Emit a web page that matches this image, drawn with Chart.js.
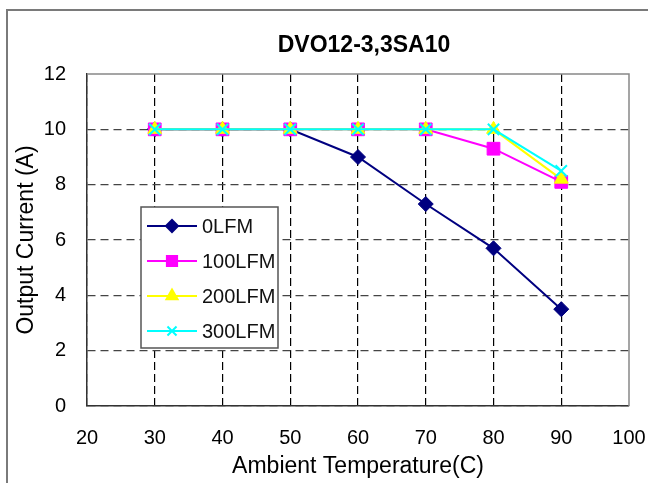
<!DOCTYPE html>
<html>
<head>
<meta charset="utf-8">
<script src="https://cdn.jsdelivr.net/npm/chart.js@4/dist/chart.umd.min.js"></script>
<style>
  html, body { margin: 0; padding: 0; background: #fff; }
  #wrap { width: 648px; height: 483px; }
</style>
</head>
<body>
<div id="wrap"><canvas id="chart" width="648" height="483"></canvas></div>
<script>
// values
const temps = [30, 40, 50, 60, 70, 80, 90];
const lfm0   = [10, 10, 10, 9.0, 7.3, 5.7, 3.5];
const lfm100 = [10, 10, 10, 10, 10, 9.3, 8.1];
const lfm200 = [10, 10, 10, 10, 10, 10, 8.2];
const lfm300 = [10, 10, 10, 10, 10, 10, 8.5];
const xTicks = [20, 30, 40, 50, 60, 70, 80, 90, 100];
const yTicks = [0, 2, 4, 6, 8, 10, 12];

const FONT = "'Liberation Sans', Arial, sans-serif";

function pts(arr) {
  return temps.map((t, i) => ({ x: t, y: arr[i] }));
}

// outer frame + top/right border of the plot
const framePlugin = {
  id: "frame",
  beforeDraw(chart) {
    const c = chart.ctx;
    c.save();
    c.fillStyle = "#fff";
    c.fillRect(0, 0, chart.width, chart.height);
    c.strokeStyle = "#7a7a7a";
    c.lineWidth = 2;
    c.beginPath();
    c.moveTo(7, chart.height);
    c.lineTo(7, 10);
    c.lineTo(chart.width, 10);
    c.stroke();
    c.restore();
  },
  beforeDatasetsDraw(chart) {
    const a = chart.chartArea, c = chart.ctx;
    c.save();
    c.strokeStyle = "#888";
    c.lineWidth = 1.5;
    c.beginPath();
    c.moveTo(a.left, a.top);
    c.lineTo(a.right, a.top);
    c.lineTo(a.right, a.bottom);
    c.stroke();
    c.restore();
  },
  afterDraw(chart) {
    const a = chart.chartArea, c = chart.ctx;
    c.save();
    c.fillStyle = "#000";
    c.font = "bold 23px " + FONT;
    c.textAlign = "center";
    c.textBaseline = "middle";
    c.fillText("DVO12-3,3SA10", (a.left + a.right) / 2 + 6, 46);
    c.restore();
  }
};

// legend box inside the plot
const boxLegend = {
  id: "boxLegend",
  afterDraw(chart) {
    const a = chart.chartArea, c = chart.ctx;
    const x0 = a.left + 54, y0 = a.top + 133, w = 137, h = 141;
    c.save();
    c.fillStyle = "#fff";
    c.fillRect(x0, y0, w, h);
    c.strokeStyle = "#555";
    c.lineWidth = 1.5;
    c.strokeRect(x0, y0, w, h);
    chart.data.datasets.forEach((ds, i) => {
      const y = y0 + 19 + i * 35;
      c.strokeStyle = ds.borderColor;
      c.lineWidth = 2;
      c.beginPath();
      c.moveTo(x0 + 6, y);
      c.lineTo(x0 + 56, y);
      c.stroke();
      c.fillStyle = ds.pointBackgroundColor;
      c.strokeStyle = ds.pointBorderColor;
      Chart.helpers.drawPoint(c, {
        pointStyle: ds.pointStyle,
        radius: ds.pointRadius * 0.8,
        rotation: 0,
        borderWidth: ds.pointBorderWidth
      }, x0 + 31, y);
      c.fillStyle = "#111";
      c.font = "20px " + FONT;
      c.textAlign = "left";
      c.textBaseline = "middle";
      c.fillText(ds.label, x0 + 61, y + 1);
    });
    c.restore();
  }
};

new Chart(document.getElementById("chart"), {
  type: "line",
  data: {
    datasets: [{
      label: "0LFM",
      data: pts(lfm0),
      borderColor: "#000080",
      pointBackgroundColor: "#000080",
      pointBorderColor: "#000080",
      pointStyle: "rectRot",
      pointRadius: 7.5,
      pointBorderWidth: 1,
      order: 3
    }, {
      label: "100LFM",
      data: pts(lfm100),
      borderColor: "#ff00ff",
      pointBackgroundColor: "#ff00ff",
      pointBorderColor: "#ff00ff",
      pointStyle: "rect",
      pointRadius: 9,
      pointBorderWidth: 1,
      order: 2
    }, {
      label: "200LFM",
      data: pts(lfm200),
      borderColor: "#ffff00",
      pointBackgroundColor: "#ffff00",
      pointBorderColor: "#ffff00",
      pointStyle: "triangle",
      pointRadius: 8,
      pointBorderWidth: 1,
      order: 1
    }, {
      label: "300LFM",
      data: pts(lfm300),
      borderColor: "#00ffff",
      pointBackgroundColor: "#00ffff",
      pointBorderColor: "#00ffff",
      pointStyle: "crossRot",
      pointRadius: 8,
      pointBorderWidth: 2,
      order: 0
    }].map(d => Object.assign({
      borderWidth: 2,
      tension: 0,
      fill: false,
      pointHoverRadius: d.pointRadius
    }, d))
  },
  options: {
    responsive: false,
    devicePixelRatio: 1,
    animation: false,
    layout: { padding: { left: 0, top: 74, right: 19, bottom: 0 } },
    plugins: {
      legend: { display: false },
      title: { display: false },
      tooltip: { enabled: false }
    },
    scales: {
      x: {
        type: "linear",
        min: 20,
        max: 100,
        afterBuildTicks: s => { s.ticks = xTicks.map(v => ({ value: v })); },
        afterFit: s => { s.height = 77; s.paddingRight = 0; s.paddingLeft = 0; },
        grid: {
          color: c => (c.tick && c.tick.value === 100) ? "rgba(0,0,0,0)" : "#000",
          lineWidth: 1.2,
          drawTicks: false
        },
        border: { color: "#333", width: 1.5, dash: [8, 4] },
        ticks: {
          color: "#000",
          padding: 20,
          font: { family: FONT, size: 20 }
        },
        title: {
          display: true,
          text: "Ambient Temperature(C)",
          color: "#000",
          font: { family: FONT, size: 23 },
          padding: { top: 0, bottom: 3 }
        }
      },
      y: {
        min: 0,
        max: 12,
        afterBuildTicks: s => { s.ticks = yTicks.map(v => ({ value: v })); },
        afterFit: s => { s.width = 87; s.paddingTop = 0; s.paddingBottom = 0; },
        grid: {
          color: c => (c.tick && c.tick.value === 12) ? "rgba(0,0,0,0)" : "#444",
          lineWidth: 1.2,
          drawTicks: false
        },
        border: { color: "#333", width: 1.5, dash: [8, 5] },
        ticks: {
          color: "#000",
          padding: 21,
          font: { family: FONT, size: 20 }
        },
        title: {
          display: true,
          text: "Output Current (A)",
          color: "#000",
          font: { family: FONT, size: 23 },
          padding: { top: 13, bottom: 0 }
        }
      }
    }
  },
  plugins: [framePlugin, boxLegend]
});
</script>
</body>
</html>
